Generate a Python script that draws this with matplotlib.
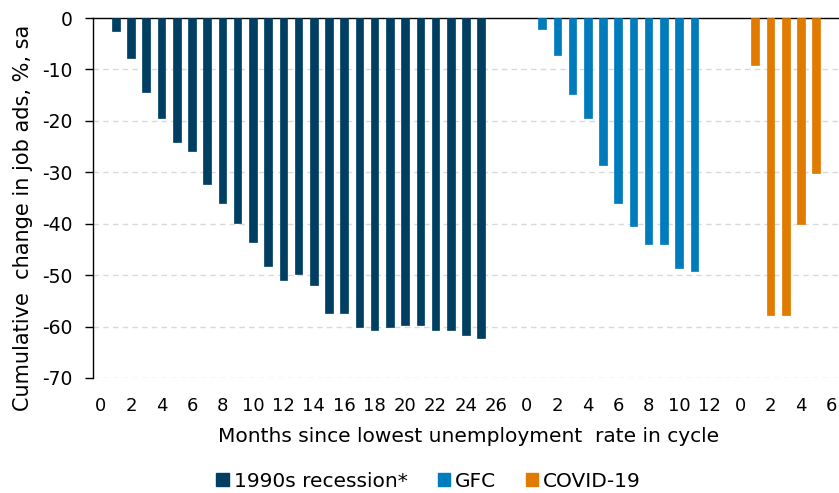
import matplotlib
matplotlib.use("Agg")
import matplotlib.pyplot as plt
import numpy as np
from matplotlib.patches import Patch

# ---- data ----
months_1990 = list(range(0, 28))     # category slots 0..27
months_gfc = list(range(0, 14))      # 0..13
months_covid = list(range(0, 7))     # 0..6

rec1990_months = list(range(1, 26))
rec1990_vals = [-2.5, -7.7, -14.3, -19.5, -24.1, -25.9, -32.2, -35.9, -39.8, -43.5,
                -48.3, -51.0, -49.8, -52.0, -57.4, -57.4, -60.1, -60.7, -60.1, -59.7,
                -59.7, -60.7, -60.7, -61.6, -62.2]

gfc_months = list(range(1, 12))
gfc_vals = [-2.2, -7.1, -14.7, -19.5, -28.6, -35.9, -40.4, -44.0, -44.0, -48.6, -49.2]

covid_months = list(range(1, 6))
covid_vals = [-9.2, -57.7, -57.7, -40.1, -30.1]

series_names = ["1990s recession*", "GFC", "COVID-19"]
colors = ["#003f62", "#007bbb", "#e07b00"]

y_ticks = [0, -10, -20, -30, -40, -50, -60, -70]

# ---- figure ----
plt.rcParams['font.family'] = ['DejaVu Sans']
fig = plt.figure(figsize=(8.39, 4.93), dpi=100)
ax = fig.add_axes([93/839, 1 - 378/493, 1 - 93/839, 360/493])

groups = [
    (months_1990, rec1990_months, rec1990_vals),
    (months_gfc, gfc_months, gfc_vals),
    (months_covid, covid_months, covid_vals),
]

offset = 0
tick_pos, tick_lab = [], []
for (slots, mths, vals), col in zip(groups, colors):
    xs = [offset + m for m in mths]
    ax.bar(xs, vals, width=0.5, color=col, edgecolor=col, linewidth=0.5, zorder=3)
    for m in slots:
        if m % 2 == 0:
            tick_pos.append(offset + m)
            tick_lab.append(str(m))
    offset += len(slots)

ax.set_xlim(-0.5, offset - 0.5)
ax.set_ylim(-70, 0)
ax.set_xticks(tick_pos)
ax.set_xticklabels(tick_lab, fontsize=13)
ax.set_yticks(y_ticks)
ax.set_yticklabels([str(v) for v in y_ticks], fontsize=13.5)
ax.tick_params(axis='x', length=0, pad=14)
ax.tick_params(axis='y', length=6, width=1, pad=9, color='black')

for v in y_ticks:
    if v != 0:
        ax.axhline(v, color='#d9d9d9', linewidth=1, linestyle=(0, (4, 3)), zorder=1)

for s in ['right', 'bottom']:
    ax.spines[s].set_visible(False)
ax.spines['top'].set_color('black')
ax.spines['top'].set_linewidth(1)
ax.spines['left'].set_linewidth(1)

ax.set_ylabel("Cumulative  change in job ads, %, sa", fontsize=15)
ax.yaxis.set_label_coords(-0.08, 0.445)
ax.set_xlabel("Months since lowest unemployment  rate in cycle", fontsize=14.5)
ax.xaxis.set_label_coords(0.503, -0.135)

handles = [Patch(facecolor=c, edgecolor=c) for c in colors]
fig.legend(handles, series_names, loc='center', bbox_to_anchor=(0.511, 0.024),
           ncol=3, frameon=False, fontsize=14.5, handlelength=0.6, handleheight=0.6,
           handletextpad=0.25, columnspacing=1.5)

fig.savefig("out.png", dpi=100)
